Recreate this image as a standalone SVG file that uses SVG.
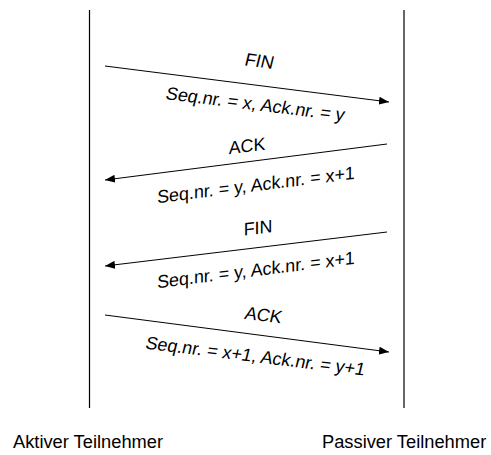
<svg xmlns="http://www.w3.org/2000/svg" width="491" height="455" viewBox="0 0 491 455">
  <style>
    .life { stroke: #000; stroke-width: 1.2; fill: none; }
    .msg { stroke: #000; stroke-width: 1; fill: none; marker-end: url(#head); }
    text { font-family: "Liberation Sans", Arial, sans-serif; font-size: 18px; fill: #000; text-anchor: middle; }
    .party { text-anchor: start; font-size: 18.3px; }
  </style>
  <defs>
    <marker id="head" viewBox="0 0 10 8" refX="10" refY="4" markerWidth="10" markerHeight="8" markerUnits="userSpaceOnUse" orient="auto">
      <path d="M0,0 L10,4 L0,8 Z" fill="#000"/>
    </marker>
  </defs>

  <g id="lifeline-active">
    <line class="life" x1="89.5" y1="10" x2="89.5" y2="408"/>
    <text class="party" x="13" y="448">Aktiver Teilnehmer</text>
  </g>
  <g id="lifeline-passive">
    <line class="life" x1="404" y1="10" x2="404" y2="408"/>
    <text class="party" x="322" y="448">Passiver Teilnehmer</text>
  </g>

  <g id="connectors">
    <line class="msg" x1="105" y1="66" x2="389" y2="102"/>
    <line class="msg" x1="387" y1="144" x2="105" y2="180"/>
    <line class="msg" x1="387" y1="232" x2="105" y2="266"/>
    <line class="msg" x1="105" y1="315" x2="389" y2="352"/>
  </g>

  <!-- labels follow the slope of their arrow, with a slight shear -->
  <g id="msg-fin-1">
    <text transform="translate(258,67) rotate(7) skewX(-7)">FIN</text>
    <text transform="translate(254,110) rotate(7) skewX(-7)">Seq.nr. = x, Ack.nr. = y</text>
  </g>
  <g id="msg-ack-1">
    <text transform="translate(247,152) rotate(-7) skewX(-7)">ACK</text>
    <text transform="translate(256,191) rotate(-7) skewX(-7)">Seq.nr. = y, Ack.nr. = x+1</text>
  </g>
  <g id="msg-fin-2">
    <text transform="translate(258,234) rotate(-7) skewX(-7)">FIN</text>
    <text transform="translate(256,276) rotate(-7) skewX(-7)">Seq.nr. = y, Ack.nr. = x+1</text>
  </g>
  <g id="msg-ack-2">
    <text transform="translate(262,321) rotate(7) skewX(-7)">ACK</text>
    <text transform="translate(254,362) rotate(7) skewX(-7)">Seq.nr. = x+1, Ack.nr. = y+1</text>
  </g>
</svg>
